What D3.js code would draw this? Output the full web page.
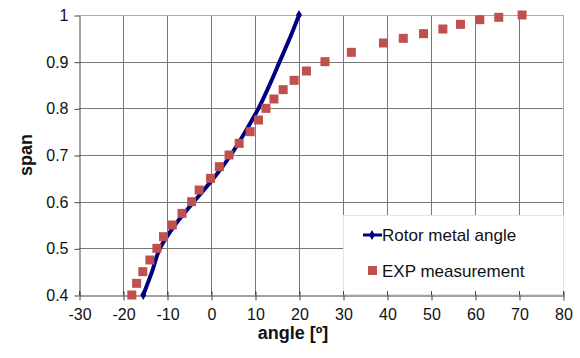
<!DOCTYPE html>
<html>
<head>
<meta charset="utf-8">
<script src="https://cdn.jsdelivr.net/npm/d3@7"></script>
<style>
	body { margin: 0; background: #fff; }
	svg { display: block; font-family: 'Liberation Sans', Arial, sans-serif; }
</style>
</head>
<body>
<div id="app"></div>
<script>
// Rotor metal angle (line)
const metalSpan = [0.4, 0.45, 0.5, 0.55, 0.6, 0.65, 0.7, 0.75, 0.8, 0.85, 0.9, 0.95, 1.0];
const metalAngle = [-15.4, -13.4, -11.6, -8.2, -3.9, 0.6, 4.5, 7.8, 10.8, 13.3, 15.6, 17.9, 20.0];

// EXP measurement (squares)
const expSpan = [0.4, 0.425, 0.45, 0.475, 0.5, 0.525, 0.55, 0.575, 0.6, 0.625, 0.65, 0.675, 0.7, 0.725,
	0.75, 0.775, 0.8, 0.82, 0.84, 0.86, 0.88, 0.9, 0.92, 0.94, 0.95, 0.96, 0.97, 0.98, 0.99, 0.995, 1.0];
const expAngle = [-18.0, -16.9, -15.5, -13.9, -12.3, -10.8, -8.8, -6.6, -4.4, -2.7, -0.1, 1.9, 4.1, 6.4,
	8.9, 10.8, 12.5, 14.3, 16.4, 18.9, 21.7, 25.9, 31.9, 39.2, 43.7, 48.3, 52.7, 56.7, 61.1, 65.4, 70.7];

const xTicks = [-30, -20, -10, 0, 10, 20, 30, 40, 50, 60, 70, 80];
const yTicks = [0.4, 0.5, 0.6, 0.7, 0.8, 0.9, 1];

const width = 580, height = 358;
const margin = {left: 79, right: 17, top: 15, bottom: 63};

const svg = d3.select('#app').append('svg')
	.attr('width', width)
	.attr('height', height);

const x = d3.scaleLinear().domain([-30, 80]).range([margin.left, width - margin.right]);
const y = d3.scaleLinear().domain([0.4, 1]).range([height - margin.bottom, margin.top]);

const plot = svg.append('g');

// grid
plot.selectAll('line.vgrid')
	.data(xTicks.slice(1))
	.enter()
	.append('line')
	.attr('x1', (d) => x(d) + 0.5)
	.attr('x2', (d) => x(d) + 0.5)
	.attr('y1', y(1))
	.attr('y2', y(0.4))
	.attr('stroke', (d) => d === 80 ? '#aaa' : '#777')
	.attr('stroke-width', 1);

plot.selectAll('line.hgrid')
	.data(yTicks.slice(1))
	.enter()
	.append('line')
	.attr('x1', x(-30))
	.attr('x2', x(80))
	.attr('y1', (d) => Math.round(y(d)) + 0.5)
	.attr('y2', (d) => Math.round(y(d)) + 0.5)
	.attr('stroke', (d) => d === 1 ? '#aaa' : '#777')
	.attr('stroke-width', 1);

// axes
const xAxis = svg.append('g')
	.attr('transform', `translate(0.5,${Math.round(y(0.4)) + 0.5})`)
	.call(d3.axisBottom(x).tickValues(xTicks).tickFormat((d) => String(d)).tickSizeInner(5).tickSizeOuter(0).tickPadding(8));
xAxis.selectAll('.tick line').attr('y1', -4).attr('stroke', '#444');
xAxis.select('.domain').attr('stroke', '#444');
xAxis.selectAll('.tick text').attr('font-size', 16).attr('fill', '#111');

const yAxis = svg.append('g')
	.attr('transform', `translate(${x(-30) + 0.5},0.5)`)
	.call(d3.axisLeft(y).tickValues(yTicks).tickFormat((d) => String(d)).tickSizeInner(5).tickSizeOuter(0).tickPadding(6));
yAxis.selectAll('.tick line').attr('stroke', '#444');
yAxis.select('.domain').attr('stroke', '#444');
yAxis.selectAll('.tick text').attr('font-size', 16).attr('fill', '#111');

// axis titles
svg.append('text')
	.attr('x', 293)
	.attr('y', 339)
	.attr('text-anchor', 'middle')
	.attr('font-size', 18)
	.attr('font-weight', 'bold')
	.attr('fill', '#111')
	.text('angle [º]');

svg.append('text')
	.attr('transform', `translate(32,${(y(0.4) + y(1)) / 2}) rotate(-90)`)
	.attr('text-anchor', 'middle')
	.attr('font-size', 18)
	.attr('font-weight', 'bold')
	.attr('fill', '#111')
	.text('span');

// series
const metal = metalSpan.map((s, i) => ({span: s, angle: metalAngle[i]}));
const exp = expSpan.map((s, i) => ({span: s, angle: expAngle[i]}));

svg.append('path')
	.datum(metal)
	.attr('fill', 'none')
	.attr('stroke', '#000080')
	.attr('stroke-width', 4)
	.attr('stroke-linejoin', 'round')
	.attr('d', d3.line().x((d) => x(d.angle)).y((d) => y(d.span)).curve(d3.curveMonotoneY));

svg.selectAll('path.diamond')
	.data([metal[0], metal[metal.length - 1]])
	.enter()
	.append('path')
	.attr('transform', (d) => `translate(${x(d.angle)},${y(d.span)})`)
	.attr('d', d3.symbol().type(d3.symbolDiamond).size(30))
	.attr('fill', '#000080');

const sq = 9;
svg.selectAll('rect.exp')
	.data(exp)
	.enter()
	.append('rect')
	.attr('x', (d) => x(d.angle) - sq / 2)
	.attr('y', (d) => y(d.span) - sq / 2)
	.attr('width', sq)
	.attr('height', sq)
	.attr('fill', '#C0504D');

// legend
const legend = svg.append('g');
legend.append('rect')
	.attr('x', 343.5)
	.attr('y', 215.5)
	.attr('width', x(80) - 343)
	.attr('height', Math.round(y(0.4)) - 216)
	.attr('fill', '#fff')
	.attr('stroke', '#e4e4e4');

legend.append('line')
	.attr('x1', 363).attr('x2', 382)
	.attr('y1', 235).attr('y2', 235)
	.attr('stroke', '#000080')
	.attr('stroke-width', 3);
legend.append('path')
	.attr('transform', 'translate(372,235)')
	.attr('d', d3.symbol().type(d3.symbolDiamond).size(30))
	.attr('fill', '#000080');
legend.append('text')
	.attr('x', 382).attr('y', 235)
	.attr('dy', '0.35em')
	.attr('font-size', 17)
	.attr('fill', '#111')
	.text('Rotor metal angle');

legend.append('rect')
	.attr('x', 368).attr('y', 266)
	.attr('width', sq).attr('height', sq)
	.attr('fill', '#C0504D');
legend.append('text')
	.attr('x', 382).attr('y', 271)
	.attr('dy', '0.35em')
	.attr('font-size', 17)
	.attr('fill', '#111')
	.text('EXP measurement');

// x-axis ticks remain visible over the legend
svg.append('g')
	.selectAll('line')
	.data(xTicks)
	.enter()
	.append('line')
	.attr('x1', (d) => x(d) + 0.5)
	.attr('x2', (d) => x(d) + 0.5)
	.attr('y1', Math.round(y(0.4)) - 4)
	.attr('y2', Math.round(y(0.4)))
	.attr('stroke', '#444');
</script>
</body>
</html>
